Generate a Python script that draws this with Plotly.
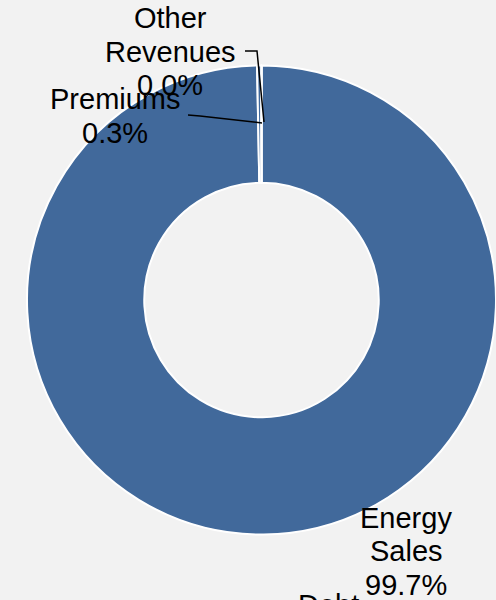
import plotly.graph_objects as go

# ---- data ----
categories = ["Energy Sales", "Premiums", "Other Revenues", "Debt"]
values = [99.7, 0.3, 0.0, 0.0]
label_lines = [
    ["Energy", "Sales", "99.7%"],
    ["Premiums", "0.3%"],
    ["Other", "Revenues", "0.0%"],
    ["Debt"],
]

# ---- layout settings (pixels in a 496x600 canvas) ----
W, H = 496, 600
SLICE_COLOR = "#41699b"
BG = "#f2f2f2"
FONT = dict(family="Liberation Sans, Arial, sans-serif", size=29, color="black")
LINE_H = 33.5
label_anchor = [  # (center x, first-line center y)
    (406, 517.5),
    (115, 99),
    (170, 18.3),
    (328, 605),
]
leaders = [
    None,
    [(188, 115), (200, 116), (262, 123)],
    [(245, 51), (257, 51), (264, 122)],
    None,
]


def px(x, y):
    return x / W, 1 - y / H


fig = go.Figure(
    go.Pie(
        labels=categories,
        values=values,
        hole=0.5,
        sort=False,
        direction="clockwise",
        rotation=0,
        textinfo="none",
        hoverinfo="label+percent",
        marker=dict(colors=[SLICE_COLOR] * len(categories),
                    line=dict(color="white", width=2)),
        domain=dict(x=[27 / W, 1], y=[0.1, 0.9]),
        showlegend=False,
    )
)

annotations = []
for lines, (cx, cy) in zip(label_lines, label_anchor):
    for i, t in enumerate(lines):
        x, y = px(cx, cy + i * LINE_H)
        annotations.append(dict(x=x, y=y, xref="paper", yref="paper", text=t,
                                showarrow=False, xanchor="center", yanchor="middle",
                                font=FONT))

shapes = []
for pts in leaders:
    if not pts:
        continue
    path = ""
    for j, (x, y) in enumerate(pts):
        X, Y = px(x, y)
        path += ("M" if j == 0 else "L") + f" {X} {Y} "
    shapes.append(dict(type="path", xref="paper", yref="paper", path=path,
                       line=dict(color="black", width=1.5)))

fig.update_layout(
    width=W, height=H,
    margin=dict(l=0, r=0, t=0, b=0),
    paper_bgcolor=BG, plot_bgcolor=BG,
    annotations=annotations, shapes=shapes,
)

fig.write_html(
    "out.html",
    config={"displayModeBar": False},
    post_script="document.body.style.margin='0';document.body.style.overflow='hidden';",
)
